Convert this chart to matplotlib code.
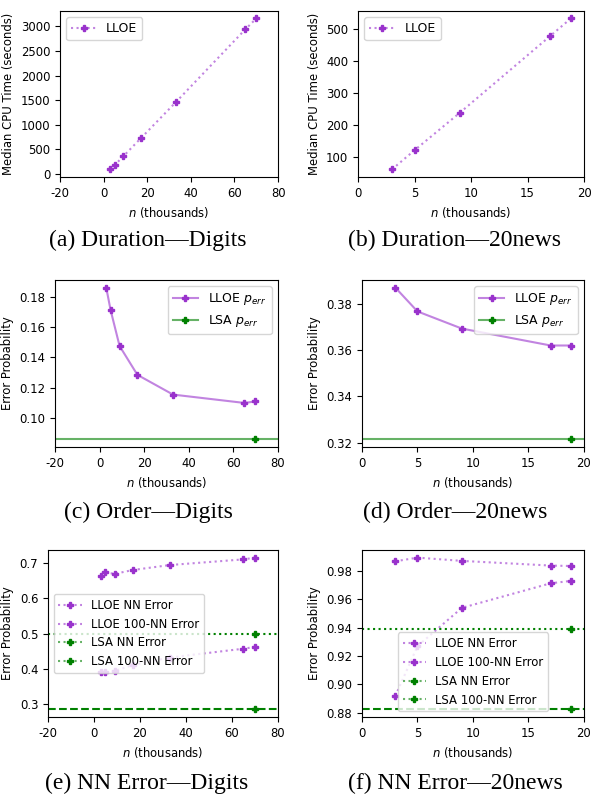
import numpy as np
import matplotlib
matplotlib.use("Agg")
import matplotlib.pyplot as plt
from matplotlib.colors import to_rgba

plt.rcParams['axes.unicode_minus'] = False
plt.rcParams['font.size'] = 8.4

purple = 'darkorchid'
green = 'green'
purpleLine = to_rgba(purple, 0.6)
greenLine = to_rgba(green, 0.6)

# Digits data
nDigits = [3, 5, 9, 17, 33, 65, 70]
timeDigits = [95, 180, 360, 725, 1455, 2940, 3160]
perrDigits = [0.186, 0.171, 0.1475, 0.1285, 0.1155, 0.110, 0.111]
lsaPerrDigits = 0.086
nnDigits = [0.663, 0.673, 0.669, 0.680, 0.694, 0.710, 0.715]
nn100Digits = [0.390, 0.390, 0.394, 0.411, 0.432, 0.457, 0.462]
lsaNnDigits = 0.498
lsaNn100Digits = 0.285

# 20news data
nNews = [3, 5, 9, 17, 18.83]
timeNews = [60, 120, 237, 477, 532]
perrNews = [0.387, 0.3767, 0.3693, 0.362, 0.362]
lsaPerrNews = 0.3215
nnNews = [0.9868, 0.9894, 0.9871, 0.9838, 0.9835]
nn100News = [0.8918, 0.927, 0.954, 0.9713, 0.973]
lsaNnNews = 0.9388
lsaNn100News = 0.8824

captions = ["(a) Duration\u2014Digits", "(b) Duration\u201420news",
            "(c) Order\u2014Digits", "(d) Order\u201420news",
            "(e) NN Error\u2014Digits", "(f) NN Error\u201420news"]


def mplot(ax, x, y, ls, line, mark, label):
    ax.plot(x, y, ls, color=line, marker='P', markersize=5,
            markerfacecolor=mark, markeredgecolor=mark, label=label)


def plotDuration(ax, n, t, xlim):
    mplot(ax, n, t, ':', purpleLine, purple, 'LLOE')
    ax.set_xlim(xlim)
    ax.set_xlabel('$n$ (thousands)')
    ax.set_ylabel('Median CPU Time (seconds)')
    ax.legend(loc='upper left', fontsize=9)


def plotOrder(ax, n, perr, lsa, xlim):
    mplot(ax, n, perr, '-', purpleLine, purple, 'LLOE $p_{err}$')
    mplot(ax, [n[-1]], [lsa], '-', greenLine, green, 'LSA $p_{err}$')
    ax.axhline(lsa, color=greenLine)
    ax.set_xlim(xlim)
    ax.set_xlabel('$n$ (thousands)')
    ax.set_ylabel('Error Probability')
    ax.legend(loc='upper right', fontsize=9)


def plotNN(ax, n, nn, nn100, lsaNn, lsaNn100, xlim, loc):
    mplot(ax, n, nn, ':', purpleLine, purple, 'LLOE NN Error')
    mplot(ax, n, nn100, ':', purpleLine, purple, 'LLOE 100-NN Error')
    mplot(ax, [n[-1]], [lsaNn], ':', greenLine, green, 'LSA NN Error')
    mplot(ax, [n[-1]], [lsaNn100], ':', greenLine, green, 'LSA 100-NN Error')
    ax.axhline(lsaNn, color=green, linestyle=':')
    ax.axhline(lsaNn100, color=green, linestyle='--')
    ax.set_xlim(xlim)
    ax.set_xlabel('$n$ (thousands)')
    ax.set_ylabel('Error Probability')
    ax.legend(loc=loc, fontsize=8.4)


fig = plt.figure(figsize=(5.91, 7.99), dpi=100)

axA = fig.add_axes([0.1015, 0.7785, 0.369, 0.2078])
axB = fig.add_axes([0.6058, 0.7785, 0.3824, 0.2078])
axC = fig.add_axes([0.093, 0.4406, 0.377, 0.209])
axD = fig.add_axes([0.6125, 0.4406, 0.3756, 0.209])
axE = fig.add_axes([0.0812, 0.1026, 0.389, 0.209])
axF = fig.add_axes([0.6125, 0.1026, 0.3756, 0.209])

plotDuration(axA, nDigits, timeDigits, (-20, 80))
plotDuration(axB, nNews, timeNews, (0, 20))
plotOrder(axC, nDigits, perrDigits, lsaPerrDigits, (-20, 80))
plotOrder(axD, nNews, perrNews, lsaPerrNews, (0, 20))
plotNN(axE, nDigits, nnDigits, nn100Digits, lsaNnDigits, lsaNn100Digits, (-20, 80), 'center left')
plotNN(axF, nNews, nnNews, nn100News, lsaNnNews, lsaNn100News, (0, 20), 'lower center')

capPos = [(148, 240), (455, 240), (148, 512), (455, 512), (147, 783), (455, 783)]
for cap, (x, y) in zip(captions, capPos):
    fig.text(x / 591, 1 - y / 799, cap, ha='center', va='center',
             family='Liberation Serif', fontsize=17)

fig.savefig("out.png", dpi=100)
